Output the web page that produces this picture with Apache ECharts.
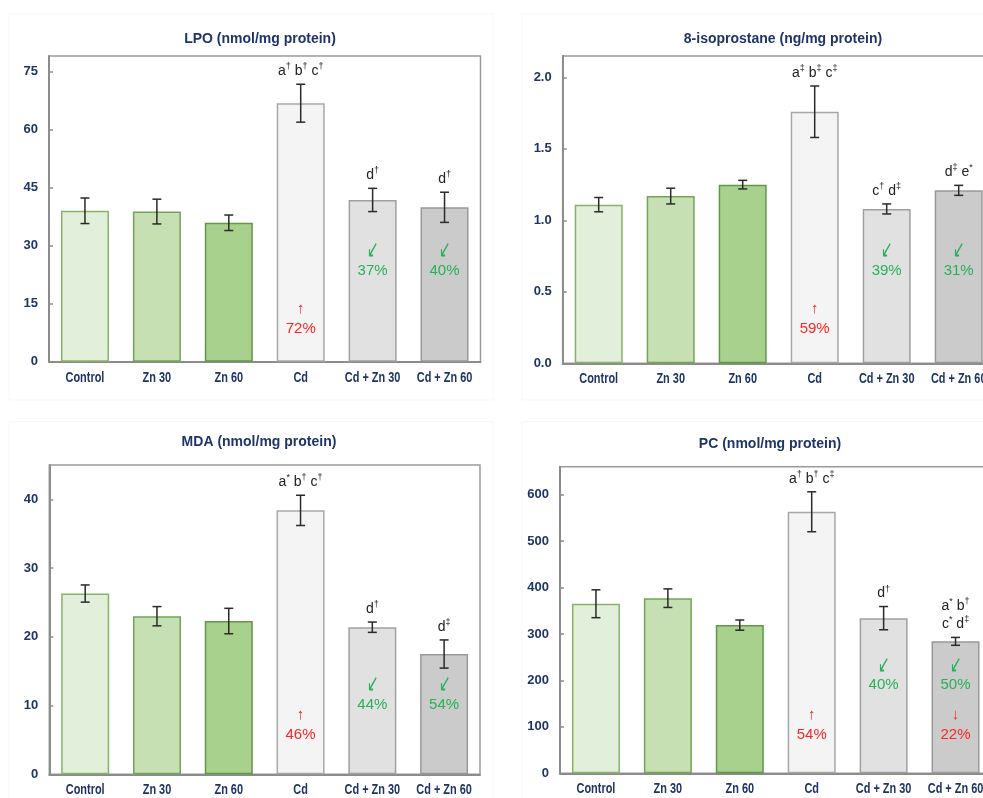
<!DOCTYPE html>
<html>
<head>
<meta charset="utf-8">
<script src="https://cdn.jsdelivr.net/npm/echarts@6/dist/echarts.min.js"></script>
<style>
  html, body { margin: 0; padding: 0; background: #ffffff; }
  #chart { width: 983px; height: 798px; }
</style>
</head>
<body>
<div id="chart"></div>
<script>
// Treatment groups (shared by all four panels)
const categories = ['Control', 'Zn 30', 'Zn 60', 'Cd', 'Cd + Zn 30', 'Cd + Zn 60'];

// LPO (nmol/mg protein)
const lpoMean = [39.0, 38.8, 35.9, 66.8, 41.8, 39.9];
const lpoSd   = [3.3, 3.2, 2.0, 4.9, 3.0, 3.9];
const lpoSig  = ['', '', '', 'a† b† c†', 'd†', 'd†'];
const lpoNotes = [[3, '↑', '72%'], [4, '↙', '37%'], [5, '↙', '40%']];
const lpoNoteAt = [8.5, 23.5, 23.5];
const lpoTicks = { max: 79, interval: 15 };

// 8-isoprostane (ng/mg protein)
const isoMean = [1.11, 1.17, 1.25, 1.76, 1.08, 1.21];
const isoSd   = [0.05, 0.055, 0.03, 0.18, 0.035, 0.035];
const isoSig  = ['', '', '', 'a‡ b‡ c‡', 'c† d‡', 'd‡ e*'];
const isoNotes = [[3, '↑', '59%'], [4, '↙', '39%'], [5, '↙', '31%']];
const isoNoteAt = [0.24, 0.65, 0.65];
const isoTicks = { max: 2.15, interval: 0.5 };

// MDA (nmol/mg protein)
const mdaMean = [26.3, 23.0, 22.3, 38.4, 21.4, 17.5];
const mdaSd   = [1.25, 1.4, 1.85, 2.2, 0.75, 2.05];
const mdaSig  = ['', '', '', 'a* b† c†', 'd†', 'd‡'];
const mdaNotes = [[3, '↑', '46%'], [4, '↙', '44%'], [5, '↙', '54%']];
const mdaNoteAt = [5.7, 10.1, 10.1];
const mdaTicks = { max: 45, interval: 10 };

// PC (nmol/mg protein)
const pcMean = [365, 377, 319, 563, 334, 284];
const pcSd   = [30, 20, 11, 43, 25, 8.5];
const pcSig  = ['', '', '', 'a† b† c‡', 'd†', 'a* b†\nc* d‡'];
const pcNotes = [[3, '↑', '54%'], [4, '↙', '40%'], [5, '↙', '50%'], [5, '↓', '22%']];
const pcNoteAt = [82, 190, 190, 82];
const pcTicks = { max: 660, interval: 100 };

// ---- styling ----
const NAVY = '#1f3468';
const FONT = "'Liberation Sans', Arial, Helvetica, sans-serif";
const barFill   = ['#e2efda', '#c6e0b4', '#a9d18e', '#f4f4f4', '#e1e1e1', '#cbcbcb'];
const barStroke = ['#86b36a', '#72a455', '#62964a', '#a8a8a8', '#a0a0a0', '#999999'];
const RED = '#ff2525';
const GREEN = '#27b159';

// turn "a† b‡ c*" into rich text with raised marks
function richSig(s) {
  return s.replace(/[†‡*]/g, m => '{s|' + m + '}');
}

const panels = [
  { title: 'LPO (nmol/mg protein)', tx: 260, ty: 39,
    frame: { x: 9, y: 14, width: 484, height: 386 },
    grid: { left: 49, top: 56, width: 431.5, height: 305.7 },
    mean: lpoMean, sd: lpoSd, sig: lpoSig, notes: lpoNotes, noteAt: lpoNoteAt, ticks: lpoTicks,
    fmt: v => String(v) },
  { title: '8-isoprostane (ng/mg protein)', tx: 783, ty: 39,
    frame: { x: 522, y: 14, width: 480, height: 386 },
    grid: { left: 562.7, top: 56, width: 432, height: 307.3 },
    mean: isoMean, sd: isoSd, sig: isoSig, notes: isoNotes, noteAt: isoNoteAt, ticks: isoTicks,
    fmt: v => v.toFixed(1) },
  { title: 'MDA (nmol/mg protein)', tx: 259, ty: 441.7,
    frame: { x: 9, y: 421.5, width: 484, height: 400 },
    grid: { left: 49.3, top: 465, width: 430.7, height: 309.3 },
    mean: mdaMean, sd: mdaSd, sig: mdaSig, notes: mdaNotes, noteAt: mdaNoteAt, ticks: mdaTicks,
    fmt: v => String(v) },
  { title: 'PC (nmol/mg protein)', tx: 770, ty: 444,
    frame: { x: 522, y: 421.5, width: 480, height: 400 },
    grid: { left: 560, top: 466.7, width: 431.5, height: 306.6 },
    mean: pcMean, sd: pcSd, sig: pcSig, notes: pcNotes, noteAt: pcNoteAt, ticks: pcTicks,
    fmt: v => String(v) }
];

const option = {
  animation: false,
  backgroundColor: '#ffffff',
  grid: [], xAxis: [], yAxis: [], series: [], graphic: []
};

const noteText = (s, col, size) => ({
  text: s, fill: col, fontFamily: FONT, fontSize: size || 15, align: 'center', verticalAlign: 'middle'
});

panels.forEach((p, k) => {
  option.grid.push(Object.assign({
    show: true, borderColor: '#9a9a9a', borderWidth: 1.5, backgroundColor: 'transparent',
    containLabel: false, outerBoundsMode: 'none'
  }, p.grid));

  option.xAxis.push({
    type: 'category', gridIndex: k, data: categories,
    axisLine: { lineStyle: { color: '#8c8c8c', width: 2 } },
    axisTick: { show: false },
    axisLabel: { show: false }
  });

  option.yAxis.push({
    type: 'value', gridIndex: k, min: 0, max: p.ticks.max, interval: p.ticks.interval,
    splitLine: { show: false },
    axisLine: { show: true, lineStyle: { color: '#8c8c8c', width: 2 } },
    axisTick: { show: true, inside: true, length: 4, lineStyle: { color: '#8c8c8c', width: 1.5 } },
    axisLabel: { color: NAVY, fontFamily: FONT, fontWeight: 'bold', fontSize: 13, margin: 11,
                 showMaxLabel: false, formatter: p.fmt }
  });

  // group means
  option.series.push({
    type: 'bar', xAxisIndex: k, yAxisIndex: k, barWidth: 48, z: 2,
    data: p.mean.map((v, i) => ({
      value: v,
      itemStyle: { color: barFill[i], borderColor: barStroke[i], borderWidth: 1.5 }
    }))
  });

  // error bars (mean ± SD) with significance letters above
  option.series.push({
    type: 'custom', xAxisIndex: k, yAxisIndex: k, z: 5,
    data: p.mean.map((v, i) => [i, v, p.sd[i]]),
    renderItem: (params, api) => {
      const i = api.value(0), m = api.value(1), s = api.value(2);
      const hi = api.coord([i, m + s]);
      const lo = api.coord([i, m - s]);
      const cap = 4.5;
      const line = { stroke: '#2a2a2a', lineWidth: 1.5 };
      const children = [
        { type: 'line', shape: { x1: hi[0], y1: hi[1], x2: lo[0], y2: lo[1] }, style: line },
        { type: 'line', shape: { x1: hi[0] - cap, y1: hi[1], x2: hi[0] + cap, y2: hi[1] }, style: line },
        { type: 'line', shape: { x1: lo[0] - cap, y1: lo[1], x2: lo[0] + cap, y2: lo[1] }, style: line }
      ];
      const sig = p.sig[params.dataIndex];
      if (sig) {
        children.push({
          type: 'text', x: hi[0], y: hi[1] - 4,
          style: {
            text: richSig(sig), fill: '#222222', fontFamily: FONT, fontSize: 14, lineHeight: 18,
            align: 'center', verticalAlign: 'bottom',
            rich: { s: { fontSize: 9, lineHeight: 10, verticalAlign: 'top', fill: '#222222', fontFamily: FONT } }
          }
        });
      }
      return { type: 'group', children: children };
    }
  });

  // percent change notes inside the bars
  option.series.push({
    type: 'custom', xAxisIndex: k, yAxisIndex: k, z: 6,
    data: p.notes.map((n, j) => [n[0], p.noteAt[j]]),
    renderItem: (params, api) => {
      const n = p.notes[params.dataIndex];
      const pt = api.coord([api.value(0), api.value(1)]);
      const diag = n[1] === '↙';
      const col = diag ? GREEN : RED;
      return {
        type: 'group',
        children: [
          { type: 'text', x: pt[0], y: pt[1] - 20,
            scaleX: diag ? 0.8 : 1, scaleY: diag ? 1.4 : 1,
            style: noteText(n[1], col, diag ? 17 : 15) },
          { type: 'text', x: pt[0], y: pt[1], style: noteText(n[2], col) }
        ]
      };
    }
  });

  // category names under each bar (narrowed bold type)
  option.series.push({
    type: 'custom', xAxisIndex: k, yAxisIndex: k, z: 6, clip: false, silent: true,
    data: categories.map((c, i) => [i, 0]),
    renderItem: (params, api) => {
      const pt = api.coord([api.value(0), 0]);
      return {
        type: 'text', x: pt[0], y: pt[1] + 16, scaleX: 0.78,
        style: { text: categories[params.dataIndex], fill: NAVY, fontFamily: FONT, fontWeight: 'bold',
                 fontSize: 14, align: 'center', verticalAlign: 'middle' }
      };
    }
  });

  // faint panel outline
  option.graphic.push({
    type: 'rect', z: -1, silent: true,
    shape: p.frame,
    style: { fill: 'none', stroke: '#f7f7f7', lineWidth: 1 }
  });

  // panel heading
  option.graphic.push({
    type: 'text', x: p.tx, y: p.ty,
    style: { text: p.title, fill: NAVY, fontFamily: FONT, fontWeight: 'bold', fontSize: 14,
             align: 'center', verticalAlign: 'middle' }
  });
});

const chart = echarts.init(document.getElementById('chart'), null, { renderer: 'canvas' });
chart.setOption(option);
</script>
</body>
</html>
